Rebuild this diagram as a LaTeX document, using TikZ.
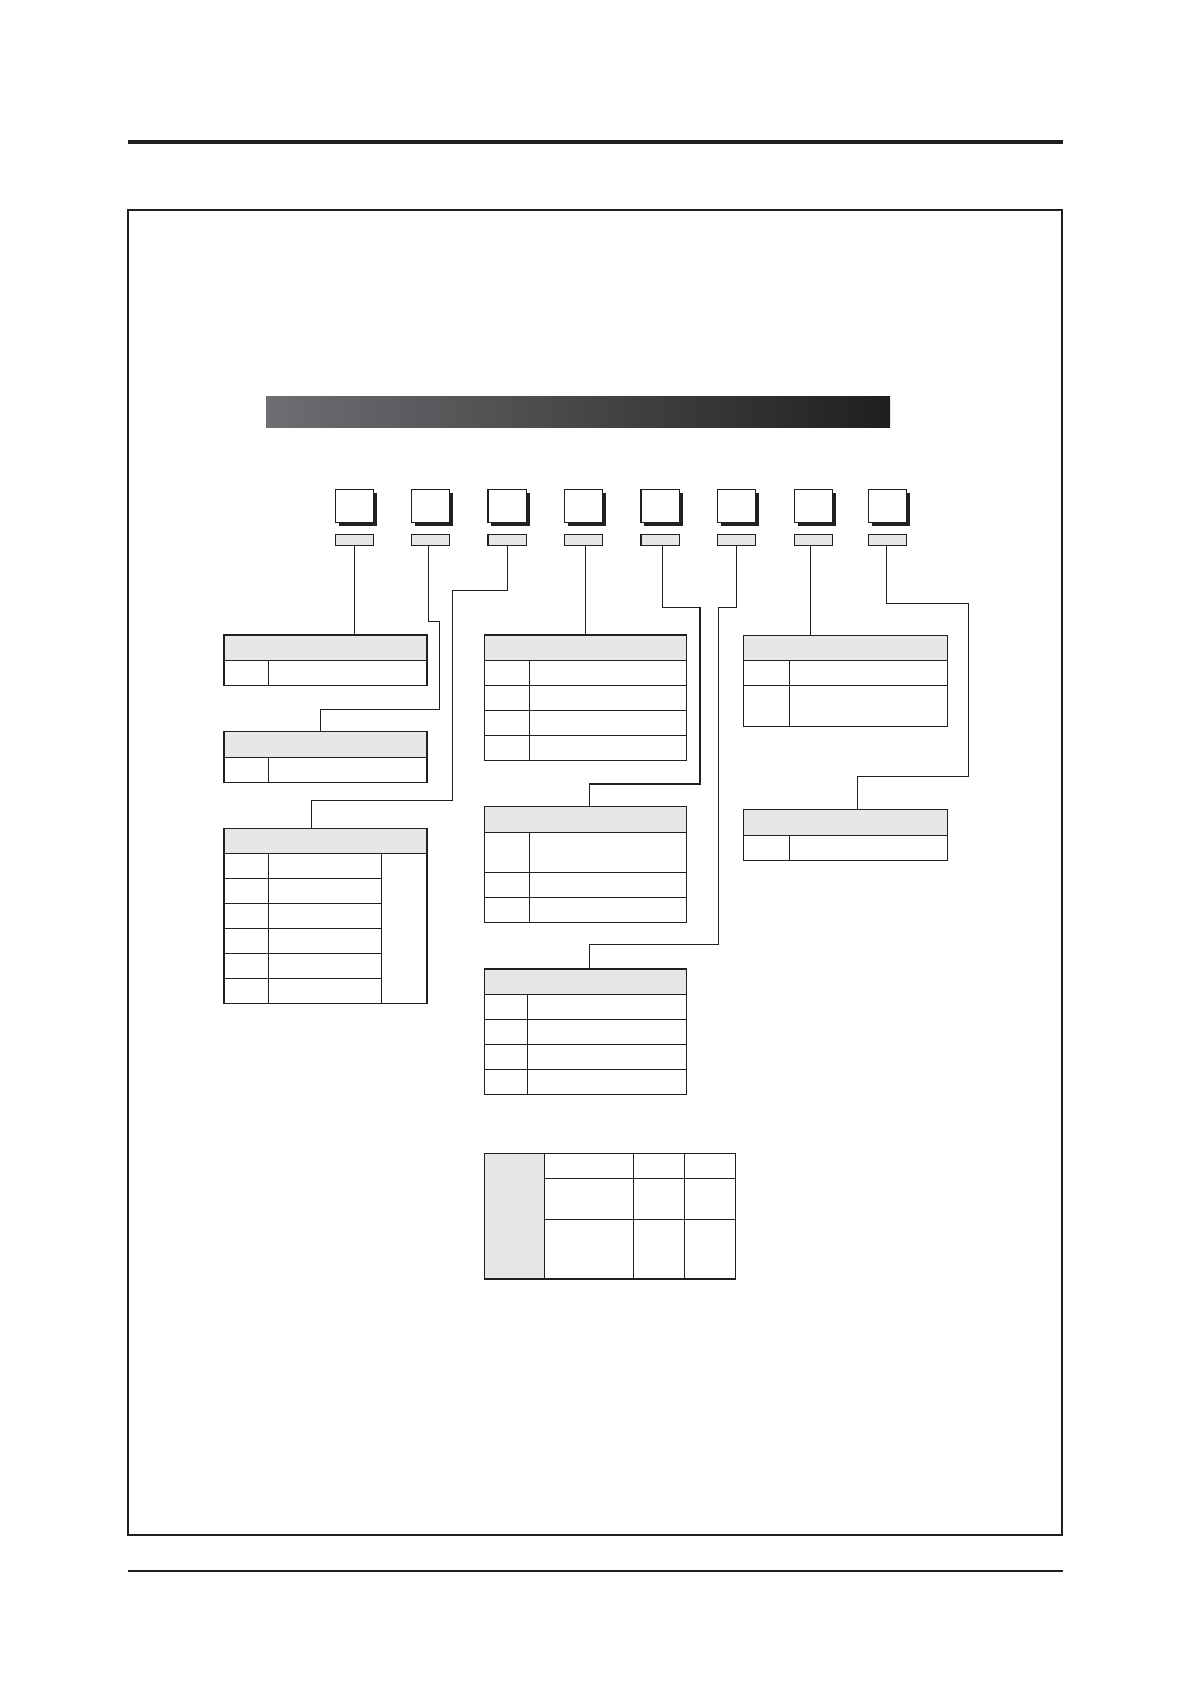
\documentclass[tikz,border=0pt]{standalone}
\usetikzlibrary{shadows}
\definecolor{ink}{RGB}{35,31,32}
\definecolor{hdr}{RGB}{231,231,233}
\definecolor{barL}{RGB}{110,110,114}
\definecolor{barR}{RGB}{33,30,31}
\tikzset{
 cell/.style={draw=ink, fill=white, inner sep=0pt, outer sep=0pt, anchor=north west, line width=1.3pt},
 hcell/.style={cell, fill=hdr},
 keybox/.style={cell, minimum width=38.3pt, minimum height=33pt, drop shadow={shadow xshift=3.3pt, shadow yshift=-3.3pt, opacity=1, fill=ink}},
 strip/.style={hcell, minimum width=38.3pt, minimum height=11pt, line width=1.2pt},
 link/.style={draw=ink, line width=1.2pt},
 rulebar/.style={fill=ink, inner sep=0pt, outer sep=0pt, anchor=west, minimum width=935pt},
}
\begin{document}
\begin{tikzpicture}[x=1pt,y=-1pt]
\useasboundingbox (0,0) rectangle (1191,1684);
% page furniture
\node[rulebar, minimum height=4pt] (toprule) at (128,142) {};
\node[rulebar, minimum height=2.5pt] (botrule) at (128,1571) {};
\node[draw=ink, line width=1.1pt, inner sep=0pt, outer sep=0pt, anchor=north west, minimum width=934pt, minimum height=1325pt] (frame) at (128,210) {};
% gradient title bar
\node[inner sep=0pt, outer sep=0pt, anchor=north west, minimum width=624pt, minimum height=31pt, left color=barL, right color=barR] (bar) at (266,396) {};
% code boxes and label strips
\foreach \i/\x in {1/335.3,2/411.5,3/488,4/564.3,5/641,6/717.3,7/794.3,8/868.3} {
  \node[keybox] (b\i) at (\x,489.3) {};
  \node[strip] (s\i) at (\x,534.3) {};
}
% table 1
\node[hcell, minimum width=203pt, minimum height=25.3pt] (t1h) at (224,635) {};
\node[cell, minimum width=44.5pt, minimum height=25pt] (t1k1) at (224,660.3) {};
\node[cell, minimum width=158.5pt, minimum height=25pt] (t1v1) at (268.5,660.3) {};
% table 2
\node[hcell, minimum width=203pt, minimum height=26pt] (t2h) at (224,731.3) {};
\node[cell, minimum width=44.5pt, minimum height=25pt] (t2k1) at (224,757.3) {};
\node[cell, minimum width=158.5pt, minimum height=25pt] (t2v1) at (268.5,757.3) {};
% table 3
\node[hcell, minimum width=203pt, minimum height=25pt] (t3h) at (224,828.3) {};
\foreach \i [evaluate=\i as \y using 853.3+25*(\i-1)] in {1,...,6} {
  \node[cell, minimum width=44.5pt, minimum height=25pt] (t3k\i) at (224,\y) {};
  \node[cell, minimum width=112.8pt, minimum height=25pt] (t3v\i) at (268.5,\y) {};
}
\node[cell, minimum width=45.7pt, minimum height=150pt] (t3r) at (381.3,853.3) {};
% table 4
\node[hcell, minimum width=202.5pt, minimum height=25.3pt] (t4h) at (484.3,635) {};
\foreach \i [evaluate=\i as \y using 660.3+25*(\i-1)] in {1,...,4} {
  \node[cell, minimum width=45pt, minimum height=25pt] (t4k\i) at (484.3,\y) {};
  \node[cell, minimum width=157.5pt, minimum height=25pt] (t4v\i) at (529.3,\y) {};
}
% table 5
\node[hcell, minimum width=202.5pt, minimum height=25.6pt] (t5h) at (484.3,806.7) {};
\foreach \i/\y/\h in {1/832.3/40,2/872.3/25,3/897.3/25} {
  \node[cell, minimum width=45pt, minimum height=\h pt] (t5k\i) at (484.3,\y) {};
  \node[cell, minimum width=157.5pt, minimum height=\h pt] (t5v\i) at (529.3,\y) {};
}
% table 6
\node[hcell, minimum width=202.5pt, minimum height=25.3pt] (t6h) at (484.3,969) {};
\foreach \i [evaluate=\i as \y using 994.3+25*(\i-1)] in {1,...,4} {
  \node[cell, minimum width=43pt, minimum height=25pt] (t6k\i) at (484.3,\y) {};
  \node[cell, minimum width=159.5pt, minimum height=25pt] (t6v\i) at (527.3,\y) {};
}
% table 7
\node[hcell, minimum width=204pt, minimum height=25pt] (t7h) at (743.3,635.3) {};
\foreach \i/\y/\h in {1/660.3/25,2/685.3/41} {
  \node[cell, minimum width=46pt, minimum height=\h pt] (t7k\i) at (743.3,\y) {};
  \node[cell, minimum width=158pt, minimum height=\h pt] (t7v\i) at (789.3,\y) {};
}
% table 8
\node[hcell, minimum width=204pt, minimum height=26pt] (t8h) at (743.3,809.3) {};
\node[cell, minimum width=46pt, minimum height=25pt] (t8k1) at (743.3,835.3) {};
\node[cell, minimum width=158pt, minimum height=25pt] (t8v1) at (789.3,835.3) {};
% table 9 (bottom)
\node[hcell, minimum width=60pt, minimum height=125.3pt] (t9g) at (484.3,1153.7) {};
\foreach \r/\y/\h in {1/1153.7/24.6,2/1178.3/41,3/1219.3/59.7} {
  \foreach \c/\x/\w in {1/544.3/89,2/633.3/51,3/684.3/51} {
    \node[cell, minimum width=\w pt, minimum height=\h pt] (t9c\r\c) at (\x,\y) {};
  }
}
% connectors
\draw[link] (s1.south) -- (s1.south |- t1h.north);
\coordinate (c2o) at ([xshift=-2pt]s2.south);
\coordinate (c2a) at (439.5,621.4);
\coordinate (c2b) at (320.5,709.5);
\draw[link] (c2o) |- (c2a) |- (c2b) -- (c2b |- t2h.north);
\coordinate (c3a) at (452.5,590.3);
\coordinate (c3b) at (311.5,800.3);
\draw[link] (s3.south) |- (c3a) |- (c3b) -- (c3b |- t3h.north);
\coordinate (c4o) at ([xshift=2pt]s4.south);
\draw[link] (c4o) -- (c4o |- t4h.north);
\coordinate (c5o) at ([xshift=2pt]s5.south);
\coordinate (c5a) at (700,607.4);
\coordinate (c5b) at (589.3,784);
\draw[link] (c5o) |- (c5a) |- (c5b) -- (c5b |- t5h.north);
\coordinate (c6a) at (718.3,607.3);
\coordinate (c6b) at (589.3,944.7);
\draw[link] (s6.south) |- (c6a) |- (c6b) -- (c6b |- t6h.north);
\coordinate (c7o) at ([xshift=-3pt]s7.south);
\draw[link] (c7o) -- (c7o |- t7h.north);
\coordinate (c8o) at ([xshift=-1pt]s8.south);
\coordinate (c8a) at (968.3,603.3);
\coordinate (c8b) at (857.3,776.3);
\draw[link] (c8o) |- (c8a) |- (c8b) -- (c8b |- t8h.north);
\end{tikzpicture}
\end{document}
